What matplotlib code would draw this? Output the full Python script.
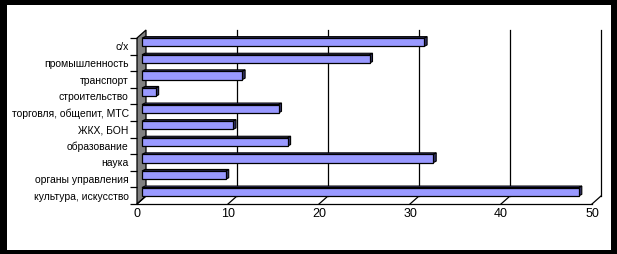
import numpy as np
import matplotlib
matplotlib.use("Agg")
import matplotlib.pyplot as plt
from matplotlib.patches import Polygon, Rectangle

# categories from bottom to top
categories = ["культура, искусство", "органы управления", "наука", "образование",
              "ЖКХ, БОН", "торговля, общепит, МТС", "строительство", "транспорт",
              "промышленность", "с/х"]
values = [48, 9.2, 32, 16, 10, 15, 1.5, 11, 25, 31]
xticks = [0, 10, 20, 30, 40, 50]

W, H = 617, 254
fig = plt.figure(figsize=(W / 100, H / 100), dpi=100, facecolor="black")
fig.patches.append(Rectangle((7 / W, 4 / H), 604 / W, 245 / H, transform=fig.transFigure,
                             facecolor="white", edgecolor="none", zorder=-10))

# front plane of the pseudo 3d box
ax_l, ax_b, ax_w, ax_h = 137, 50, 455, 166
ax = fig.add_axes([ax_l / W, ax_b / H, ax_w / W, ax_h / H])
ax.set_facecolor("none")
n = len(categories)
ax.set_xlim(0, 50)
ax.set_ylim(-0.5, n - 0.5)
for s in ax.spines.values():
    s.set_visible(False)

# pixel -> data units
sx = 50 / ax_w
sy = n / ax_h
bdx, bdy = 9 * sx, 8 * sy      # back plane offset
odx, ody = 5 * sx, 4 * sy      # bar front face offset
ddx, ddy = 3 * sx, 1.5 * sy    # bar depth

y0, y1 = -0.5, n - 0.5
kw = dict(clip_on=False, color="black", lw=0.9)

# left wall
ax.add_patch(Polygon([(0, y0), (0, y1), (bdx, y1 + bdy), (bdx, y0 + bdy)], closed=True,
                     facecolor="#808080", edgecolor="black", lw=0.9, clip_on=False, zorder=1))
# back grid lines
for x in xticks[1:]:
    ax.plot([x + bdx, x + bdx], [y0 + bdy, y1 + bdy], zorder=1, **kw)
# floor
ax.plot([0, 50], [y0, y0], zorder=1, **kw)
for x in xticks:
    ax.plot([x, x + bdx], [y0, y0 + bdy], zorder=1, **kw)

# bars
pos = np.arange(n)
bh = 0.5
ax.barh(pos + ody, values, height=bh, left=odx, color="#9999ff", edgecolor="black",
        lw=0.9, zorder=3, clip_on=False)
for p, v in zip(pos, values):
    xe = v + odx
    yb, yt = p + ody - bh / 2, p + ody + bh / 2
    ax.add_patch(Polygon([(xe, yb), (xe + ddx, yb + ddy), (xe + ddx, yt + ddy), (xe, yt)],
                         closed=True, facecolor="#333366", edgecolor="black", lw=0.8,
                         zorder=2, clip_on=False))
    ax.add_patch(Polygon([(odx, yt), (odx + ddx, yt + ddy), (xe + ddx, yt + ddy), (xe, yt)],
                         closed=True, facecolor="#4d4d99", edgecolor="black", lw=0.8,
                         zorder=2, clip_on=False))

# ticks and labels
ax.set_yticks(np.arange(n + 1) - 0.5)
ax.set_yticklabels([])
ax.set_yticks(pos, minor=True)
ax.set_yticklabels(categories, minor=True, fontsize=7.5, family="Liberation Sans")
ax.tick_params(axis="y", which="major", length=5, width=0.9, direction="out")
ax.tick_params(axis="y", which="minor", length=0, pad=6)
ax.set_xticks(xticks)
ax.set_xticklabels([str(t) for t in xticks], fontsize=9, family="Liberation Sans")
ax.tick_params(axis="x", length=0, pad=3)

fig.savefig("out.png", dpi=100, facecolor="black")
